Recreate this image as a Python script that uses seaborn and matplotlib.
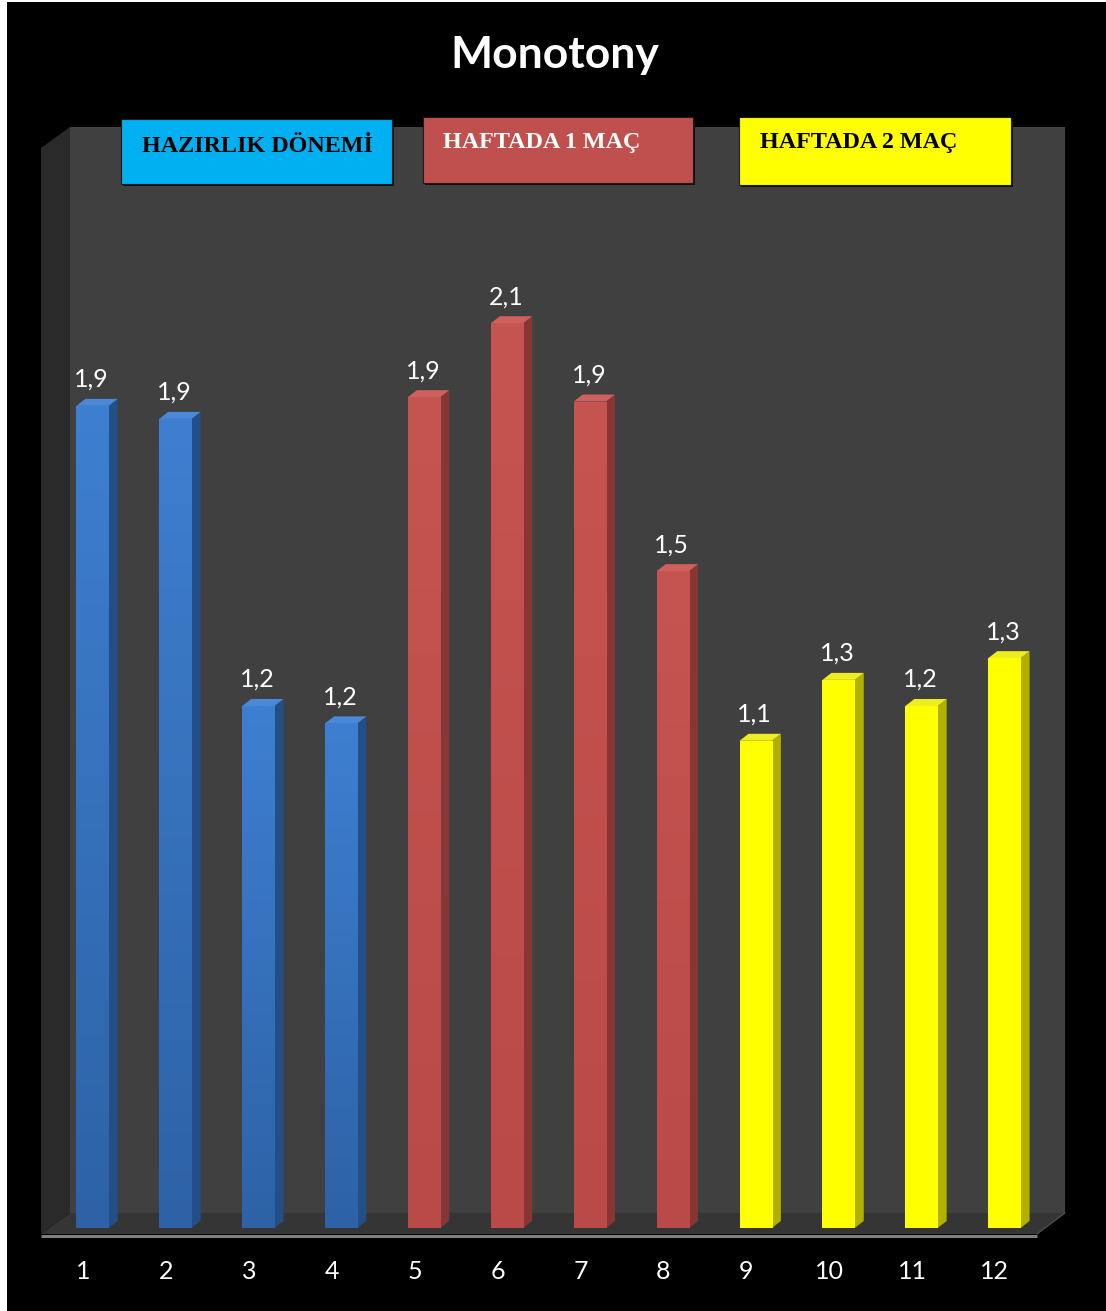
import numpy as np
import pandas as pd
import seaborn as sns
import matplotlib
matplotlib.use("Agg")
import matplotlib.pyplot as plt
from matplotlib.patches import Polygon, Rectangle
from matplotlib.colors import LinearSegmentedColormap

# ---- data ----
weeks = ["1", "2", "3", "4", "5", "6", "7", "8", "9", "10", "11", "12"]
monotony = [1.89, 1.86, 1.20, 1.16, 1.91, 2.08, 1.90, 1.51, 1.12, 1.26, 1.20, 1.31]
phase_names = ["HAZIRLIK DÖNEMİ", "HAFTADA 1 MAÇ", "HAFTADA 2 MAÇ"]
phase_of_week = [0, 0, 0, 0, 1, 1, 1, 1, 2, 2, 2, 2]

# ---- styling ----
front_top = ["#3E7FD1", "#C65451", "#FFFF00"]
front_bottom = ["#2D62A6", "#B94A47", "#FFFF00"]
side_colors = ["#234F86", "#863634", "#B0B000"]
top_colors = ["#4A89DA", "#CE605D", "#EDED20"]
box_colors = ["#00B0F0", "#C0504D", "#FFFF00"]
box_text_colors = ["#000000", "#FFFFFF", "#000000"]

W, H, DPI = 1106, 1311, 100
sns.set_theme(style="white")
plt.rcParams["font.family"] = ["Lato", "DejaVu Sans"]

df = pd.DataFrame({
    "week": weeks,
    "monotony": monotony,
    "phase": [phase_names[i] for i in phase_of_week],
})

fig = plt.figure(figsize=(W / DPI, H / DPI), dpi=DPI, facecolor="white")

# background layer in pixel units: chart area, walls and floor
bg = fig.add_axes([0, 0, 1, 1], zorder=-1)
bg.set_xlim(0, W)
bg.set_ylim(H, 0)
bg.axis("off")
bg.add_patch(Rectangle((7, 2), W - 7, H - 2, color="black", lw=0))
bg.add_patch(Polygon([(41, 148), (70, 127), (70, 1213), (41, 1234)], closed=True,
                     color="#2A2A2A", lw=0))
bg.add_patch(Rectangle((70, 127), 995, 1086, color="#404040", lw=0))
bg.add_patch(Polygon([(70, 1213), (1065, 1213), (1037, 1234), (41, 1234)], closed=True,
                     color="#353535", lw=0))
bg.plot([41, 1037], [1235.5, 1235.5], color="#808080", lw=2.2, solid_capstyle="butt")
bg.plot([1037, 1065], [1234, 1213], color="#555555", lw=0.8)

# phase boxes above the bars
boxes = [(121, 119, 271, 65, 142, 152), (423, 117, 270, 66, 443, 148),
         (739, 117, 272, 68, 760, 148)]
for i, (bx, by, bw, bh, tx, ty) in enumerate(boxes):
    bg.add_patch(Rectangle((bx + 2, by + 2), bw, bh, color="#111111", lw=0, zorder=3))
    bg.add_patch(Rectangle((bx, by), bw, bh, facecolor=box_colors[i],
                           edgecolor="#1a1a1a", lw=0.8, zorder=4))
    bg.text(tx, ty, phase_names[i], family=["Liberation Serif", "DejaVu Serif"],
            fontsize=17.4, fontweight="bold", color=box_text_colors[i],
            ha="left", va="baseline", zorder=5)

# bar axes: 0 sits on the floor, top at the wall edge
ax = fig.add_axes([70 / W, (H - 1228) / H, 995 / W, (1228 - 127) / H])
ax.patch.set_alpha(0)

sns.barplot(data=df, x="week", y="monotony", hue="phase", order=weeks,
            hue_order=phase_names, palette=dict(zip(phase_names, front_bottom)),
            dodge=False, width=0.39, saturation=1, errorbar=None, legend=False,
            ax=ax, zorder=3)

unit_px = 82.9
x0_lim = -22.5 / unit_px
ax.set_xlim(x0_lim, x0_lim + 995 / unit_px)
ax.set_ylim(0, (1228 - 127) / 435.0)

# pixel-to-data conversion for the depth offset of the 3D faces
p0 = ax.transData.transform((0, 0))
p1 = ax.transData.transform((1, 1))
dx = 9 / (p1[0] - p0[0])
dy = 7 / (p1[1] - p0[1])

for p in list(ax.patches):
    h = p.get_height()
    if not np.isfinite(h) or h <= 0:
        continue
    x0 = p.get_x()
    x1 = x0 + p.get_width()
    idx = int(round(x0 + p.get_width() / 2))
    ph = phase_of_week[idx]
    p.set_linewidth(0)
    # vertical shading on the front face
    cmap = LinearSegmentedColormap.from_list("f", [front_bottom[ph], front_top[ph]])
    grad = np.linspace(0, 1, 256).reshape(-1, 1)
    im = ax.imshow(grad, extent=[x0, x1, 0, h], origin="lower", cmap=cmap,
                   aspect="auto", zorder=3.5)
    im.set_clip_path(p)
    # right side face
    ax.add_patch(Polygon([(x1, 0), (x1, h), (x1 + dx, h + dy), (x1 + dx, dy)],
                         closed=True, color=side_colors[ph], lw=0, zorder=3))
    # top face
    ax.add_patch(Polygon([(x0, h), (x0 + dx, h + dy), (x1 + dx, h + dy), (x1, h)],
                         closed=True, color=top_colors[ph], lw=0, zorder=3))
    ax.annotate(f"{monotony[idx]:.1f}".replace(".", ","), (x0 + p.get_width() / 2, h),
                xytext=(-1, 19), textcoords="offset pixels", ha="center",
                va="baseline", color="white", fontsize=18, zorder=6)

ax.set_xlim(x0_lim, x0_lim + 995 / unit_px)
ax.set_ylim(0, (1228 - 127) / 435.0)

# week labels sit on the front edge of the floor
ax.set_xticks(np.arange(len(weeks)) - 9.5 / unit_px, labels=weeks)
ax.tick_params(axis="x", length=0, pad=23, labelsize=18, labelcolor="white")
ax.set_yticks([])
ax.set_xlabel("")
ax.set_ylabel("")
for s in ax.spines.values():
    s.set_visible(False)

fig.text(555 / W, 1 - 68 / H, "Monotony", ha="center", va="baseline",
         fontsize=32, fontweight="bold", color="white")

fig.savefig("out.png", dpi=DPI, facecolor=fig.get_facecolor())
